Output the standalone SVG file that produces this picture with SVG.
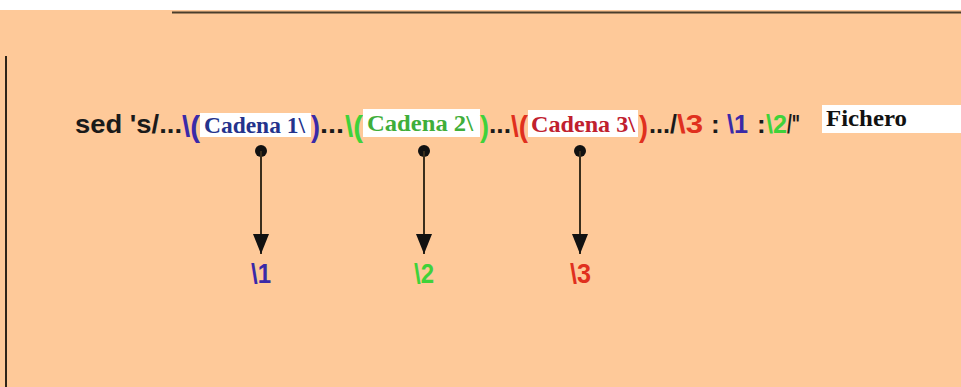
<svg xmlns="http://www.w3.org/2000/svg" width="961" height="387" viewBox="0 0 961 387">
  <defs>
    <marker id="arrow" viewBox="0 0 20 16" refX="20" refY="8" markerWidth="20" markerHeight="16" markerUnits="userSpaceOnUse" orient="auto">
      <path d="M0,0 L20,8 L0,16 Z" fill="#111"/>
    </marker>
    <style>
      .cmd { font-family: "Liberation Sans", Arial, sans-serif; font-weight: bold; font-size: 26px; }
      .paren { font-family: "Liberation Sans", Arial, sans-serif; font-weight: bold; font-size: 30px; }
      .grp { font-family: "Liberation Serif", "Times New Roman", serif; font-weight: bold; font-size: 23px; }
      .ref { font-family: "Liberation Sans", Arial, sans-serif; font-weight: bold; font-size: 27px; }
      .box { fill: #ffffff; }
      .blk { fill: #1a1a1a; }
      .blue { fill: #3a2aa8; }
      .green { fill: #3fd23a; }
      .red { fill: #e0301e; }
      .wire { stroke: #3a2e1c; stroke-width: 2; fill: none; }
    </style>
  </defs>

  <!-- page background -->
  <rect x="0" y="0" width="961" height="387" fill="#ffffff"/>
  <rect x="0" y="10" width="961" height="377" fill="#fec999"/>
  <line x1="172" y1="12.5" x2="961" y2="12.5" stroke="#4a3e2c" stroke-width="2"/>
  <line x1="6" y1="56" x2="6" y2="387" stroke="#2e2418" stroke-width="2"/>

  <!-- sed command line -->
  <g id="command">
    <text class="cmd blk" x="75" y="133" textLength="107" lengthAdjust="spacingAndGlyphs">sed 's/...</text>

    <g id="group1">
      <text class="paren blue" x="182" y="137" textLength="18" lengthAdjust="spacingAndGlyphs">\(</text>
      <rect class="box" x="200" y="113" width="111" height="24"/>
      <text class="grp" x="204" y="133" fill="#24338c" textLength="101" lengthAdjust="spacingAndGlyphs">Cadena 1\</text>
      <text class="paren blue" x="311" y="137" textLength="9" lengthAdjust="spacingAndGlyphs">)</text>
    </g>
    <text class="cmd blk" x="320" y="133" textLength="24" lengthAdjust="spacingAndGlyphs">...</text>

    <g id="group2">
      <text class="paren green" x="345" y="137" textLength="18" lengthAdjust="spacingAndGlyphs">\(</text>
      <rect class="box" x="363" y="109" width="117" height="28"/>
      <text class="grp" x="367" y="131" fill="#3fae3a" textLength="106" lengthAdjust="spacingAndGlyphs">Cadena 2\</text>
      <text class="paren green" x="480" y="137" textLength="9" lengthAdjust="spacingAndGlyphs">)</text>
    </g>
    <text class="cmd blk" x="489" y="133" textLength="22" lengthAdjust="spacingAndGlyphs">...</text>

    <g id="group3">
      <text class="paren red" x="511" y="137" textLength="17" lengthAdjust="spacingAndGlyphs">\(</text>
      <rect class="box" x="528" y="110" width="110" height="27"/>
      <text class="grp" x="531" y="132" fill="#c0202e" textLength="104" lengthAdjust="spacingAndGlyphs">Cadena 3\</text>
      <text class="paren red" x="639" y="137" textLength="9" lengthAdjust="spacingAndGlyphs">)</text>
    </g>

    <text class="cmd blk" x="649" y="133" textLength="28" lengthAdjust="spacingAndGlyphs">.../</text>
    <text class="cmd red" x="677" y="133" textLength="26" lengthAdjust="spacingAndGlyphs">\3</text>
    <text class="cmd blk" x="711" y="133">:</text>
    <text class="cmd blue" x="727" y="133" textLength="21" lengthAdjust="spacingAndGlyphs">\1</text>
    <text class="cmd blk" x="757" y="133">:</text>
    <text class="cmd green" x="766" y="133" textLength="21" lengthAdjust="spacingAndGlyphs">\2</text>
    <text class="cmd blk" x="787" y="133" textLength="13" lengthAdjust="spacingAndGlyphs">/"</text>

    <g id="file">
      <rect class="box" x="822" y="105" width="139" height="28"/>
      <text class="grp" x="826" y="126" fill="#111" font-size="22" textLength="81" lengthAdjust="spacingAndGlyphs">Fichero</text>
    </g>
  </g>

  <!-- connectors from each group to its back-reference -->
  <g id="connectors">
    <g fill="#111">
      <circle cx="261" cy="151" r="6"/>
      <circle cx="424" cy="151" r="6"/>
      <circle cx="580" cy="151" r="6"/>
    </g>
    <line class="wire" x1="261" y1="151" x2="261" y2="254" marker-end="url(#arrow)"/>
    <line class="wire" x1="424" y1="151" x2="424" y2="254" marker-end="url(#arrow)"/>
    <line class="wire" x1="580" y1="151" x2="580" y2="254" marker-end="url(#arrow)"/>
  </g>

  <!-- back-references -->
  <g id="ref1"><text class="ref blue" x="251" y="283" textLength="20" lengthAdjust="spacingAndGlyphs">\1</text></g>
  <g id="ref2"><text class="ref green" x="414" y="283" textLength="20" lengthAdjust="spacingAndGlyphs">\2</text></g>
  <g id="ref3"><text class="ref red" x="570" y="283" textLength="21" lengthAdjust="spacingAndGlyphs">\3</text></g>
</svg>
